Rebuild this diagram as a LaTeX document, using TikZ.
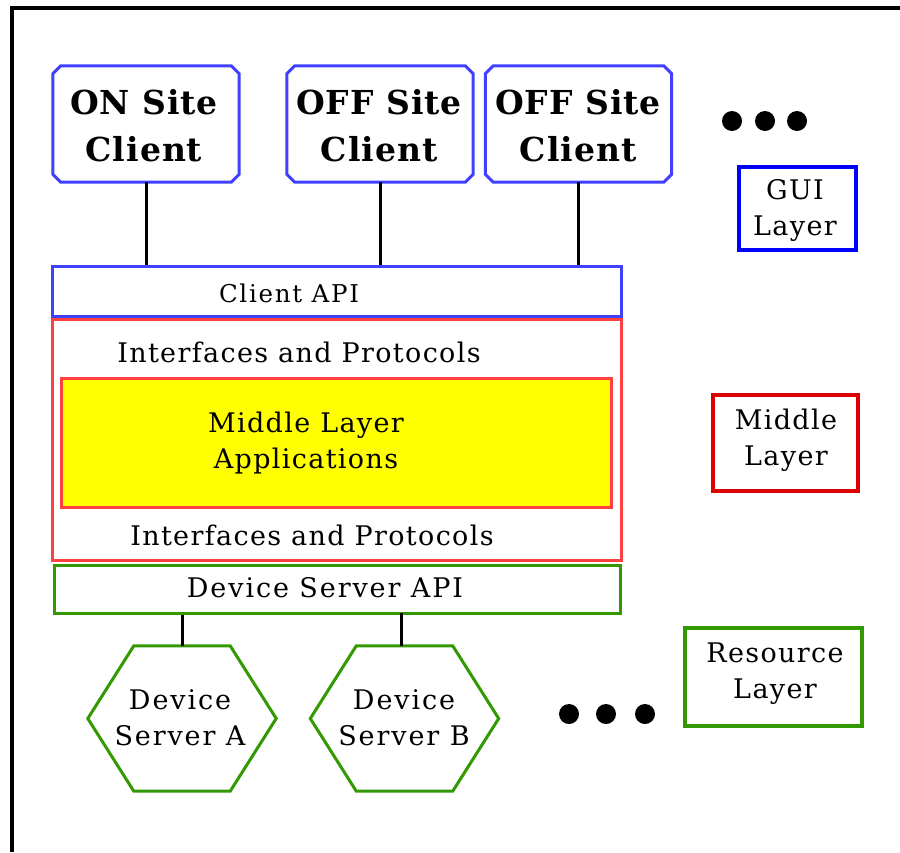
\documentclass[tikz,border=0pt]{standalone}
\usepackage{fontspec}
\setmainfont{DejaVu Serif}[LetterSpace=5]
\newfontfamily\boldclient{DejaVu Serif}[LetterSpace=3]
\newfontfamily\apifont{DejaVu Serif}[LetterSpace=7]
\definecolor{cblue}{RGB}{64,64,255}
\definecolor{gblue}{RGB}{0,0,255}
\definecolor{cred}{RGB}{255,64,64}
\definecolor{dred}{RGB}{221,0,0}
\definecolor{cgreen}{RGB}{51,153,0}
\definecolor{cyellow}{RGB}{255,255,0}
\tikzset{
  client/.style={rectangle, minimum width=186pt, minimum height=116pt, inner sep=0pt},
  chamline/.style={draw=cblue, line width=3pt},
  clienttext/.style={inner sep=0pt, align=center, font=\fontsize{33}{47}\selectfont\boldclient\bfseries},
  layerbox/.style={rectangle, line width=3.5pt, inner sep=0pt},
  bar/.style={rectangle, line width=3pt, inner sep=0pt},
  lbl/.style={inner sep=0pt, font=\fontsize{27}{36}\selectfont, align=center},
  hexbox/.style={rectangle, inner sep=0pt, minimum width=188pt, minimum height=145pt},
  hexline/.style={draw=cgreen, line width=3pt},
  conn/.style={draw=black, line width=3pt},
  dot/.style={circle, fill=black, inner sep=0pt, minimum size=20pt},
}
\begin{document}
\begin{tikzpicture}[x=1pt,y=-1pt]
\useasboundingbox (0,0) rectangle (900,852);
% frame
\draw[line width=4pt] (12,852) coordinate (fb) -- (12,8) coordinate (ftl) -- (900,8) coordinate (ftr);
% clients
\node[client] (c1) at (146,124) {};
\node[client] (c2) at (380,124) {};
\node[client] (c3) at (578.5,124) {};
\foreach \c in {c1,c2,c3}{
  \draw[chamline] ([xshift=8pt]\c.north west) -- ([xshift=-8pt]\c.north east)
    -- ([yshift=-8pt]\c.north east) -- ([yshift=8pt]\c.south east)
    -- ([xshift=-8pt]\c.south east) -- ([xshift=8pt]\c.south west)
    -- ([yshift=8pt]\c.south west) -- ([yshift=-8pt]\c.north west) -- cycle;
}
\node[clienttext] (t1) at (144,126) {ON Site\\Client};
\node[clienttext] (t2) at (379,126) {OFF Site\\Client};
\node[clienttext] (t3) at (578,126) {OFF Site\\Client};
% dots top
\node[dot] (d1) at (732,121) {};
\node[dot] (d2) at (765,121) {};
\node[dot] (d3) at (797,121) {};
% GUI layer
\node[layerbox, draw=gblue, minimum width=117pt, minimum height=83pt] (gui) at (797.5,208.5) {};
\node[lbl] (guit) at (795,210) {GUI\\Layer};
% Client API
\node[bar, draw=cblue, minimum width=569pt, minimum height=50pt] (capi) at (336.5,291) {};
\node[lbl, font=\fontsize{24.5}{30}\apifont] (capit) at (289,293) {Client API};
% middle red box
\node[rectangle, draw=cred, line width=3pt, minimum width=569pt, minimum height=241pt] (mid) at (336.5,439.5) {};
\node[lbl] (ip1) at (299,352) {Interfaces and Protocols};
\node[rectangle, draw=cred, fill=cyellow, line width=3pt, minimum width=550pt, minimum height=129pt] (app) at (336,442.5) {};
\node[lbl] (appt) at (306,443) {Middle Layer\\Applications};
\node[lbl] (ip2) at (312,535) {Interfaces and Protocols};
% Middle layer legend
\node[layerbox, draw=dred, minimum width=145pt, minimum height=96pt] (mll) at (785.5,443) {};
\node[lbl] (mllt) at (786,440) {Middle\\Layer};
% Device server API
\node[bar, draw=cgreen, minimum width=566pt, minimum height=48pt] (dapi) at (337,589) {};
\node[lbl, font=\fontsize{27}{36}\apifont] (dapit) at (325,588) {Device Server API};
% hexagons
\node[hexbox] (ha) at (182,718.5) {};
\node[hexbox] (hb) at (404.5,718.5) {};
\foreach \h in {ha,hb}{
  \draw[hexline] (\h.west) -- ([xshift=46pt]\h.north west) -- ([xshift=-46pt]\h.north east)
    -- (\h.east) -- ([xshift=-46pt]\h.south east) -- ([xshift=46pt]\h.south west) -- cycle;
}
\node[lbl, font=\fontsize{27}{36}\apifont] (hat) at (180,718) {Device\\Server A};
\node[lbl, font=\fontsize{27}{36}\apifont] (hbt) at (404,718) {Device\\Server B};
% dots bottom
\node[dot] (e1) at (569,714) {};
\node[dot] (e2) at (606,714) {};
\node[dot] (e3) at (645,714) {};
% resource legend
\node[layerbox, draw=cgreen, minimum width=177pt, minimum height=98pt] (rl) at (773.5,677) {};
\node[lbl] (rlt) at (775,674) {Resource\\Layer};
% connectors
\draw[conn] (c1.south) -- (c1.south |- capi.north);
\draw[conn] (c2.south) -- (c2.south |- capi.north);
\draw[conn] (c3.south) -- (c3.south |- capi.north);
\draw[conn] (ha.north |- dapi.south) -- (ha.north);
\draw[conn] (401,613) coordinate (bt) -- (bt |- hb.north);
\end{tikzpicture}
\end{document}
